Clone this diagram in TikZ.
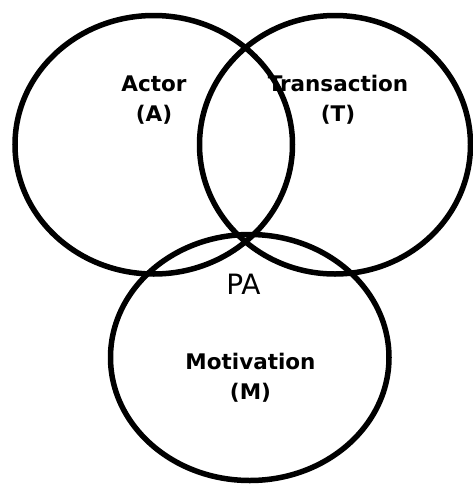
\documentclass[tikz,border=0pt]{standalone}
\usepackage{fontspec}
\setmainfont{DejaVu Sans}
\begin{document}
\begin{tikzpicture}[x=1pt, y=-1pt,
        every node/.style={inner sep=0pt, align=center},
        set/.style={draw, line width=5.5pt},
        setlabel/.style={font=\bfseries\fontsize{21.5}{30}\selectfont}]
      \useasboundingbox (0,0) rectangle (473,485);

      % Set labels
      \node[setlabel, anchor=base] (A) at (154,121) {Actor\\(A)};
      \node[setlabel, anchor=base] (T) at (338,121) {Transaction\\(T)};
      \node[setlabel, anchor=base] (M) at (250.5,399) {Motivation\\(M)};

      % Intersection label
      \node[font=\fontsize{28}{30}\selectfont, anchor=base] (PA) at (243.5,294) {PA};

      % Sets
      \draw[set] (153.75,144.75) ellipse [x radius=138.75, y radius=129.25];
      \draw[set] (335,144.75) ellipse [x radius=135.5, y radius=129.25];
      \draw[set] (249.75,357.5) ellipse [x radius=139.25, y radius=123];
    \end{tikzpicture}
\end{document}
